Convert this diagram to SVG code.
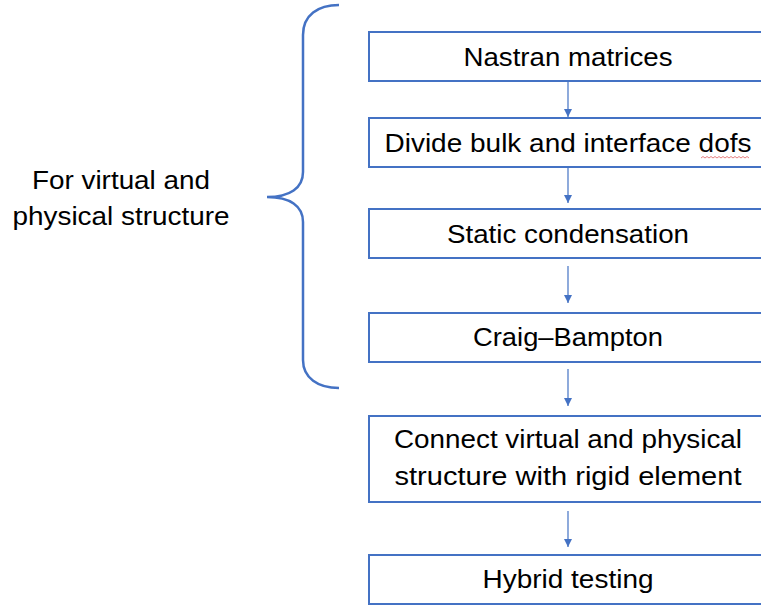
<svg xmlns="http://www.w3.org/2000/svg" width="761" height="608" viewBox="0 0 761 608">
<defs>
<style>
.box{fill:#fff;stroke:#4472C4;stroke-width:2}
.t{font-family:"Liberation Sans","Open Sans",Arial,sans-serif;font-size:26px;fill:#000;text-anchor:middle}
.c{stroke:#4472C4;stroke-width:1.2;fill:none}
</style>
<marker id="ah" viewBox="0 0 10 10" refX="10" refY="5" markerWidth="8" markerHeight="8" markerUnits="userSpaceOnUse" orient="auto">
<path d="M0,0 L10,5 L0,10 Z" fill="#4472C4"/>
</marker>
</defs>
<rect width="761" height="608" fill="#fff"/>
<g id="brace">
<path d="M339,5 C318,5 303,15 303,35 L303,172 C303,188 290,197 267,197 C290,197 303,206 303,222 L303,360 C303,378 318,388 339,388" fill="none" stroke="#4472C4" stroke-width="2.5"/>
</g>
<g id="label">
<text class="t" x="121" y="189" textLength="178" lengthAdjust="spacingAndGlyphs">For virtual and</text>
<text class="t" x="121" y="225" textLength="217" lengthAdjust="spacingAndGlyphs">physical structure</text>
</g>
<g id="connectors">
<line class="c" x1="568" y1="82" x2="568" y2="117" marker-end="url(#ah)"/>
<line class="c" x1="568" y1="168" x2="568" y2="203" marker-end="url(#ah)"/>
<line class="c" x1="568" y1="266" x2="568" y2="303" marker-end="url(#ah)"/>
<line class="c" x1="568" y1="369" x2="568" y2="406" marker-end="url(#ah)"/>
<line class="c" x1="568" y1="511" x2="568" y2="547" marker-end="url(#ah)"/>
</g>
<g id="n1">
<rect class="box" x="369" y="32" width="398" height="49"/>
<text class="t" x="568" y="66" textLength="209" lengthAdjust="spacingAndGlyphs">Nastran matrices</text>
</g>
<g id="n2">
<rect class="box" x="369" y="118" width="398" height="49"/>
<text class="t" x="568" y="152" textLength="367" lengthAdjust="spacingAndGlyphs">Divide bulk and interface dofs</text>
<path d="M701,158 l2,-1.5 l2,1.5 l2,-1.5 l2,1.5 l2,-1.5 l2,1.5 l2,-1.5 l2,1.5 l2,-1.5 l2,1.5 l2,-1.5 l2,1.5 l2,-1.5 l2,1.5 l2,-1.5 l2,1.5 l2,-1.5 l2,1.5 l2,-1.5 l2,1.5 l2,-1.5 l2,1.5 l2,-1.5 l2,1.5" fill="none" stroke="#e06060" stroke-width="0.8"/>
</g>
<g id="n3">
<rect class="box" x="369" y="209" width="398" height="49"/>
<text class="t" x="568" y="243" textLength="242" lengthAdjust="spacingAndGlyphs">Static condensation</text>
</g>
<g id="n4">
<rect class="box" x="369" y="313" width="398" height="49"/>
<text class="t" x="568" y="346" textLength="190" lengthAdjust="spacingAndGlyphs">Craig–Bampton</text>
</g>
<g id="n5">
<rect class="box" x="369" y="416" width="398" height="86"/>
<text class="t" x="568" y="448" textLength="348" lengthAdjust="spacingAndGlyphs">Connect virtual and physical</text>
<text class="t" x="568" y="485" textLength="347" lengthAdjust="spacingAndGlyphs">structure with rigid element</text>
</g>
<g id="n6">
<rect class="box" x="369" y="555" width="398" height="49"/>
<text class="t" x="568" y="588" textLength="171" lengthAdjust="spacingAndGlyphs">Hybrid testing</text>
</g>
</svg>
